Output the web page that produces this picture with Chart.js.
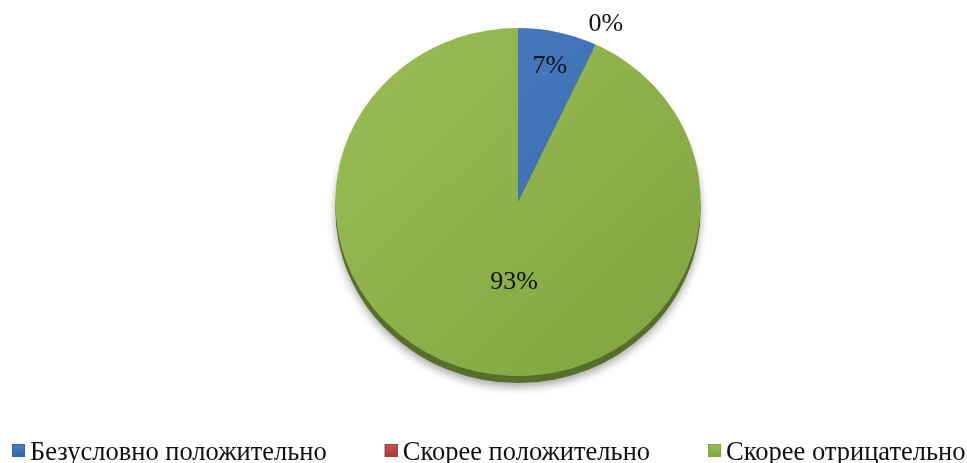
<!DOCTYPE html>
<html>
<head>
<meta charset="utf-8">
<script src="https://cdn.jsdelivr.net/npm/chart.js@4.4.0/dist/chart.umd.min.js"></script>
<style>
  html, body { margin: 0; padding: 0; background: #fff; }
  #wrap { width: 967px; height: 463px; }
</style>
</head>
<body>
<div id="wrap"><canvas id="pieChart" width="967" height="463"></canvas></div>
<script>
// data
const categories = ['Безусловно положительно', 'Скорее положительно', 'Скорее отрицательно'];
const shares = [7, 0, 93];
const pctLabels = ['7%', '0%', '93%'];
const sliceLight = ['#4a80c4', '#cd5552', '#99be54'];
const sliceDark = ['#3463a6', '#a33a37', '#82a340'];

const stretchX = 1.05; // the pie in the picture is a little wider than tall
const serif = '"Liberation Serif", "Times New Roman", serif';

function sliceFill(context) {
  const i = context.dataIndex;
  const area = context.chart.chartArea;
  if (!area) return sliceLight[i];
  const g = context.chart.ctx.createLinearGradient(area.left, area.top, area.right, area.bottom);
  g.addColorStop(0, sliceLight[i]);
  g.addColorStop(1, sliceDark[i]);
  return g;
}

// stretch the pie sideways, give it a dark rim + shadow, then write the % labels
const pieLook = {
  id: 'pieLook',
  beforeDatasetsDraw(chart) {
    const ctx = chart.ctx;
    const a = chart.chartArea;
    const cx = (a.left + a.right) / 2;
    const cy = (a.top + a.bottom) / 2;
    const r = chart.getDatasetMeta(0).data[0].outerRadius;
    ctx.save();
    ctx.translate(cx, 0);
    ctx.scale(stretchX, 1);
    ctx.translate(-cx, 0);
    ctx.save();
    ctx.shadowColor = 'rgba(0,0,0,0.35)';
    ctx.shadowBlur = 8;
    ctx.shadowOffsetY = 4;
    ctx.fillStyle = '#55702a';
    ctx.beginPath();
    ctx.arc(cx, cy + 7, r, 0, Math.PI * 2);
    ctx.fill();
    ctx.restore();
  },
  afterDatasetsDraw(chart) {
    const ctx = chart.ctx;
    ctx.restore();
    const a = chart.chartArea;
    const cx = (a.left + a.right) / 2;
    const cy = (a.top + a.bottom) / 2;
    ctx.save();
    ctx.font = '26px ' + serif;
    ctx.fillStyle = '#111';
    ctx.textAlign = 'center';
    ctx.textBaseline = 'middle';
    chart.getDatasetMeta(0).data.forEach((arc, i) => {
      const mid = (arc.startAngle + arc.endAngle) / 2;
      let kx = 0.8, ky = 0.8;
      if (shares[i] === 0) { kx = 1.13; ky = 1.13; }
      else if (shares[i] > 50) { kx = 0.1; ky = 0.47; }
      const r = arc.outerRadius;
      const x = cx + Math.cos(mid) * r * kx * stretchX;
      const y = cy + Math.sin(mid) * r * ky;
      ctx.fillText(pctLabels[i], x, y);
    });
    ctx.restore();
  }
};

// legend along the bottom, small bevelled squares like the original
const bottomLegend = {
  id: 'bottomLegend',
  afterDraw(chart) {
    const ctx = chart.ctx;
    ctx.save();
    ctx.font = '26.5px ' + serif;
    ctx.textBaseline = 'alphabetic';
    ctx.textAlign = 'left';
    let x = 12;
    const box = 13, boxTop = 444, baseline = 460, gap = 58;
    categories.forEach((name, i) => {
      const g = ctx.createLinearGradient(0, boxTop, 0, boxTop + box);
      g.addColorStop(0, sliceLight[i]);
      g.addColorStop(1, sliceDark[i]);
      ctx.fillStyle = g;
      ctx.fillRect(x, boxTop, box, box);
      ctx.strokeStyle = sliceDark[i];
      ctx.lineWidth = 1;
      ctx.strokeRect(x + 0.5, boxTop + 0.5, box - 1, box - 1);
      ctx.fillStyle = '#111';
      ctx.fillText(name, x + box + 5, baseline);
      x += box + 5 + ctx.measureText(name).width + gap;
    });
    ctx.restore();
  }
};

new Chart(document.getElementById('pieChart'), {
  type: 'pie',
  data: {
    labels: categories,
    datasets: [{
      data: shares,
      backgroundColor: sliceFill,
      borderWidth: 0
    }]
  },
  options: {
    responsive: false,
    animation: false,
    layout: {
      padding: { top: 28, bottom: 87, left: 344, right: 275 }
    },
    plugins: {
      legend: { display: false },
      tooltip: { enabled: false }
    }
  },
  plugins: [pieLook, bottomLegend]
});
</script>
</body>
</html>
